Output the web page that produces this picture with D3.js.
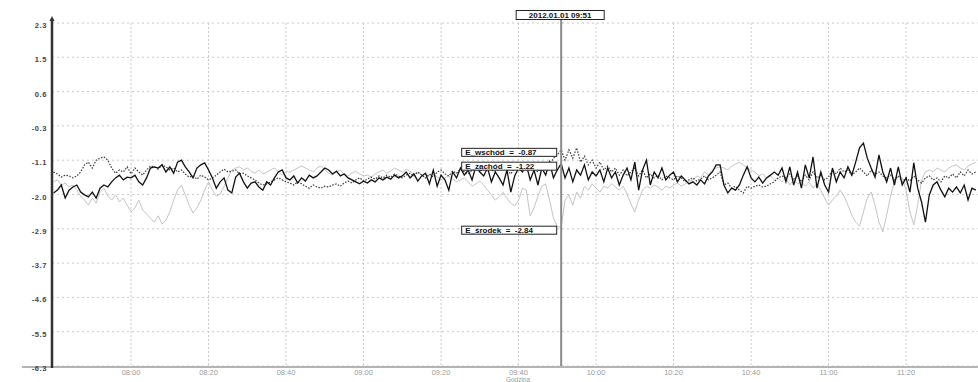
<!DOCTYPE html>
<html>
<head>
<meta charset="utf-8">
<script src="https://cdn.jsdelivr.net/npm/d3@7"></script>
<style>
  body { margin: 0; background: #fff; }
  svg { display: block; font-family: "Liberation Sans", Arial, sans-serif; }
</style>
</head>
<body>
<div id="chart"></div>
<script>
// one reading per minute from 07:40
let startTime = new Date(2012, 0, 1, 7, 40);
let cursorTime = new Date(2012, 0, 1, 9, 51);

let seriesNames = ["E_wschód", "E_zachód", "E_środek"];

let yTickValues = [2.34, 1.472, 0.604, -0.264, -1.132, -2.0, -2.868, -3.736, -4.604, -5.472, -6.34];
let yTickLabels = ["2.3", "1.5", "0.6", "-0.3", "-1.1", "-2.0", "-2.9", "-3.7", "-4.6", "-5.5", "-6.3"];

// E_zachód (solid black)
let zachod = [
  -1.96,-1.89,-1.76,-2.09,-1.89,-1.81,-1.76,-1.94,-2.01,-2.06,
  -1.94,-2.09,-1.84,-1.76,-1.81,-1.68,-1.58,-1.51,-1.63,-1.56,
  -1.58,-1.51,-1.68,-1.76,-1.58,-1.33,-1.30,-1.33,-1.25,-1.43,
  -1.30,-1.46,-1.18,-1.13,-1.30,-1.43,-1.58,-1.33,-1.25,-1.20,
  -1.38,-1.58,-1.84,-1.68,-1.58,-1.89,-1.96,-1.56,-1.46,-1.68,
  -1.84,-1.71,-1.68,-1.81,-1.89,-1.68,-1.76,-1.58,-1.43,-1.38,
  -1.58,
  -1.63,-1.53,-1.71,-1.58,-1.66,-1.51,-1.58,-1.53,-1.43,-1.33,
  -1.38,-1.48,-1.41,-1.53,-1.48,-1.58,-1.63,-1.68,-1.73,-1.66,
  -1.71,-1.63,-1.68,-1.58,-1.63,-1.56,-1.61,-1.51,-1.58,-1.53,
  -1.43,-1.58,-1.48,-1.66,-1.53,-1.46,-1.73,-1.38,-1.79,-1.51,
  -1.63,-1.89,-1.43,-1.58,-1.33,-1.51,-1.38,-1.63,-1.28,-1.43,
  -1.53,-1.33,-1.68,-1.43,-1.58,-1.76,-1.38,-1.94,-1.53,-1.33,
  -1.43,-1.25,-1.63,-1.38,-1.76,-1.33,-1.51,-1.18,-1.58,-1.38,
  -1.22,-1.58,-1.33,-1.68,-1.38,-1.51,-1.25,-1.63,-1.43,-1.53,
  -1.38,-1.68,-1.33,-1.58,-1.43,-1.76,-1.51,-1.33,-1.63,-1.18,
  -1.89,-1.38,-1.13,-1.76,-1.43,-1.58,-1.33,-1.63,-1.51,-1.43,
  -1.68,-1.53,-1.63,-1.73,-1.68,-1.76,-1.63,-1.73,-1.53,-1.43,
  -1.25,-1.25,
  -1.76,-1.96,-1.84,-1.89,-1.76,-1.51,-1.30,-1.58,-1.68,-1.56,
  -1.71,-1.58,-1.51,-1.43,-1.51,-1.33,-1.68,-1.30,-1.76,-1.43,
  -1.84,-1.25,-1.58,-1.05,-1.84,-1.43,-1.76,-1.94,-1.33,-1.68,
  -1.43,-1.58,-1.30,-1.51,-1.18,-0.82,-0.70,-1.08,-1.33,-1.56,
  -1.00,-1.43,-1.68,-1.33,-1.76,-1.30,-1.76,-1.58,-1.94,-1.20,
  -1.84,-2.19,-2.70,-2.01,-1.76,-1.68,-1.89,-2.06,-1.84,-1.94,
  -1.81,-1.96,-1.76,-2.14,-1.84,-1.89
];

// E_wschód (dotted)
let wschod = [
  -1.43,-1.48,-1.56,-1.51,-1.53,-1.58,-1.53,-1.43,-1.25,-1.18,
  -1.33,-1.13,-1.08,-1.05,-1.13,-1.33,-1.46,-1.38,-1.43,-1.30,
  -1.48,-1.33,-1.43,-1.51,-1.38,-1.28,-1.30,-1.36,-1.25,-1.30,
  -1.38,-1.33,-1.43,-1.38,-1.48,-1.56,-1.53,-1.61,-1.51,-1.56,
  -1.63,-1.58,-1.51,-1.43,-1.36,-1.43,-1.41,-1.38,-1.48,-1.46,
  -1.53,-1.58,-1.63,-1.71,-1.76,-1.73,-1.68,-1.63,-1.58,-1.63,
  -1.68,
  -1.71,-1.76,-1.68,-1.73,-1.79,-1.84,-1.76,-1.81,-1.84,-1.79,
  -1.81,-1.76,-1.73,-1.79,-1.71,-1.66,-1.71,-1.63,-1.58,-1.66,
  -1.61,-1.56,-1.61,-1.53,-1.58,-1.51,-1.56,-1.48,-1.53,-1.58,
  -1.51,-1.46,-1.53,-1.43,-1.51,-1.58,-1.48,-1.56,-1.43,-1.38,
  -1.48,-1.53,-1.41,-1.46,-1.36,-1.43,-1.48,-1.38,-1.33,-1.41,
  -1.36,-1.28,-1.38,-1.43,-1.33,-1.25,-1.38,-1.48,-1.33,-1.25,
  -1.33,-1.38,-1.25,-1.33,-1.43,-1.28,-1.18,-1.25,-1.08,-1.00,
  -0.87,-1.13,-0.87,-1.08,-0.82,-1.18,-1.03,-1.25,-1.13,-1.33,
  -1.18,-1.38,-1.28,-1.43,-1.33,-1.51,-1.38,-1.53,-1.43,-1.33,
  -1.53,-1.38,-1.58,-1.48,-1.58,-1.51,-1.63,-1.53,-1.58,-1.63,
  -1.53,-1.58,-1.68,-1.63,-1.58,-1.66,-1.61,-1.53,-1.63,-1.58,
  -1.51,-1.43,
  -1.76,-1.71,-1.84,-1.79,-1.89,-1.96,-1.79,-1.84,-1.79,-1.76,
  -1.81,-1.79,-1.73,-1.68,-1.58,-1.53,-1.58,-1.48,-1.63,-1.53,
  -1.68,-1.51,-1.63,-1.43,-1.58,-1.51,-1.63,-1.56,-1.38,-1.48,
  -1.33,-1.43,-1.38,-1.51,-1.43,-1.33,-1.43,-1.53,-1.38,-1.48,
  -1.43,-1.53,-1.58,-1.51,-1.63,-1.53,-1.68,-1.58,-1.66,-1.53,
  -1.63,-1.71,-1.58,-1.53,-1.63,-1.58,-1.68,-1.53,-1.58,-1.48,
  -1.58,-1.43,-1.53,-1.38,-1.48,-1.43
];

// E_środek (light grey)
let srodek = [
  -1.68,-1.63,-1.76,-1.71,-1.81,-1.76,-1.89,-2.04,-2.14,-2.27,
  -2.09,-2.22,-1.94,-1.84,-2.04,-2.14,-2.01,-2.19,-2.09,-2.27,
  -2.44,-2.34,-2.14,-2.39,-2.49,-2.60,-2.70,-2.54,-2.75,-2.65,
  -2.44,-2.14,-1.89,-1.76,-2.01,-2.27,-2.47,-2.34,-2.14,-1.89,
  -1.68,-1.89,-2.04,-1.99,-1.79,-1.58,-1.38,-1.33,-1.30,-1.38,
  -1.33,-1.41,-1.46,-1.38,-1.48,-1.43,-1.38,-1.33,-1.43,-1.51,
  -1.43,
  -1.43,-1.38,-1.33,-1.28,-1.33,-1.38,-1.43,-1.33,-1.28,-1.38,
  -1.46,-1.51,-1.43,-1.38,-1.48,-1.53,-1.46,-1.41,-1.48,-1.53,
  -1.51,-1.56,-1.48,-1.43,-1.38,-1.46,-1.41,-1.33,-1.38,-1.43,
  -1.36,-1.41,-1.48,-1.43,-1.51,-1.58,-1.53,-1.48,-1.56,-1.63,
  -1.58,-1.53,-1.61,-1.68,-1.63,-1.58,-1.68,-1.79,-1.73,-1.66,
  -1.76,-1.89,-2.01,-2.14,-2.06,-1.94,-2.09,-2.22,-2.29,-2.14,
  -1.84,-1.89,-2.54,-2.34,-2.04,-1.79,-1.73,-2.14,-2.60,-2.80,
  -2.84,-2.14,-2.01,-2.27,-1.94,-2.09,-1.79,-1.89,-1.73,-1.84,
  -1.94,-1.79,-1.84,-1.73,-1.81,-1.89,-1.79,-1.99,-2.24,-2.44,
  -2.14,-1.89,-1.79,-1.84,-1.76,-1.81,-1.89,-1.79,-1.84,-1.76,
  -1.71,-1.79,-1.73,-1.68,-1.63,-1.53,-1.58,-1.43,-1.51,-1.38,
  -1.33,-1.30,
  -1.33,-1.38,-1.28,-1.23,-1.18,-1.25,-1.33,-1.38,-1.43,-1.53,
  -1.48,-1.58,-1.53,-1.63,-1.58,-1.68,-1.58,-1.76,-1.63,-1.73,
  -1.68,-1.79,-1.68,-1.84,-1.73,-1.89,-2.09,-2.27,-2.14,-2.04,
  -1.89,-2.04,-2.27,-2.52,-2.70,-2.80,-2.44,-2.09,-1.94,-2.27,
  -2.70,-2.95,-2.52,-2.04,-1.68,-1.53,-1.58,-1.89,-2.44,-2.77,
  -2.27,-1.63,-1.43,-1.38,-1.43,-1.33,-1.38,-1.43,-1.33,-1.28,
  -1.25,-1.33,-1.38,-1.28,-1.23,-1.18
];

let width = 978, height = 382;
let plotLeft = 52, plotRight = 978, plotTop = 23, plotBottom = 366;

let svg = d3.select("#chart").append("svg")
    .attr("width", width)
    .attr("height", height);

let xScale = d3.scaleTime()
  .domain([new Date(2012, 0, 1, 7, 39, 36), new Date(2012, 0, 1, 11, 38, 34)])
  .range([plotLeft, plotRight]);

let yScale = d3.scaleLinear()
  .domain([-6.34, 2.34])
  .range([plotBottom, plotTop]);

let xTickValues = d3.timeMinute.every(20).range(new Date(2012, 0, 1, 8, 0), new Date(2012, 0, 1, 11, 21));
let timeFmt = d3.timeFormat("%H:%M");

let timeAt = (i) => d3.timeMinute.offset(startTime, i);

// grid
svg.append("g")
    .selectAll("line")
    .data(yTickValues)
  .enter().append("line")
    .attr("x1", plotLeft).attr("x2", plotRight)
    .attr("y1", d => yScale(d)).attr("y2", d => yScale(d))
    .attr("stroke", "#c8c8c8")
    .attr("stroke-dasharray", "2,3");

svg.append("g")
    .selectAll("line")
    .data(xTickValues)
  .enter().append("line")
    .attr("x1", d => xScale(d)).attr("x2", d => xScale(d))
    .attr("y1", plotTop).attr("y2", plotBottom)
    .attr("stroke", "#c8c8c8")
    .attr("stroke-dasharray", "2,2");

// series
let line = d3.line()
  .x((d, i) => xScale(timeAt(i)))
  .y(d => yScale(d));

svg.append("path")
    .datum(srodek)
    .attr("fill", "none")
    .attr("stroke", "#c4c4c4")
    .attr("stroke-width", 1)
    .attr("d", line);

svg.append("path")
    .datum(wschod)
    .attr("fill", "none")
    .attr("stroke", "#3a3a3a")
    .attr("stroke-width", 1.2)
    .attr("stroke-dasharray", "1.5,1.5")
    .attr("d", line);

svg.append("path")
    .datum(zachod)
    .attr("fill", "none")
    .attr("stroke", "#111")
    .attr("stroke-width", 1.3)
    .attr("d", line);

// x axis
svg.append("line")
    .attr("x1", 22).attr("x2", plotRight)
    .attr("y1", plotBottom + 1).attr("y2", plotBottom + 1)
    .attr("stroke", "#b4b4b4")
    .attr("stroke-width", 2);

svg.append("g")
    .selectAll("text")
    .data(xTickValues)
  .enter().append("text")
    .attr("x", d => xScale(d))
    .attr("y", 374.5)
    .attr("text-anchor", "middle")
    .attr("font-size", "7.5px")
    .attr("fill", "#9a9a9a")
    .text(d => timeFmt(d));

svg.append("text")
    .attr("x", (plotLeft + plotRight) / 2 + 3)
    .attr("y", 381.5)
    .attr("text-anchor", "middle")
    .attr("font-size", "6.5px")
    .attr("fill", "#9a9a9a")
    .text("Godzina");

// y axis
svg.append("line")
    .attr("x1", plotLeft).attr("x2", plotLeft)
    .attr("y1", 19).attr("y2", plotBottom + 2)
    .attr("stroke", "#333")
    .attr("stroke-width", 2.5);

svg.append("path")
    .attr("d", `M${plotLeft - 2.5},21 L${plotLeft},16 L${plotLeft + 2.5},21 Z`)
    .attr("fill", "#333");

svg.append("g")
    .selectAll("text")
    .data(yTickValues)
  .enter().append("text")
    .attr("x", 47)
    .attr("y", d => yScale(d) + 5)
    .attr("text-anchor", "end")
    .attr("font-size", "7.5px")
    .attr("font-weight", "bold")
    .attr("letter-spacing", "0.6px")
    .attr("fill", "#444")
    .text((d, i) => yTickLabels[i]);

// cursor
let cx = xScale(cursorTime);
let cursorIndex = d3.timeMinute.count(startTime, cursorTime);

svg.append("line")
    .attr("x1", cx).attr("x2", cx)
    .attr("y1", 19).attr("y2", plotBottom)
    .attr("stroke", "#8a8a8a")
    .attr("stroke-width", 2);

let dateLabel = svg.append("g");
dateLabel.append("rect")
    .attr("x", cx - 45).attr("y", 10.5)
    .attr("width", 88).attr("height", 9)
    .attr("fill", "#fff")
    .attr("stroke", "#222");
dateLabel.append("text")
    .attr("x", cx - 1).attr("y", 18)
    .attr("text-anchor", "middle")
    .attr("font-size", "8px")
    .attr("font-weight", "bold")
    .attr("fill", "#111")
    .text("2012.01.01 09:51");

let readouts = [wschod, zachod, srodek].map((s, i) => ({ name: seriesNames[i], value: s[cursorIndex] }));

let boxes = svg.append("g")
    .selectAll("g")
    .data(readouts)
  .enter().append("g")
    .attr("transform", d => `translate(${cx - 100}, ${yScale(d.value) - 2})`);

boxes.append("rect")
    .attr("x", 0.5).attr("y", 0.5)
    .attr("width", 95).attr("height", 8)
    .attr("fill", "#fff")
    .attr("stroke", "#222");

boxes.append("text")
    .attr("x", 4).attr("y", 7.5)
    .attr("font-size", "8px")
    .attr("font-weight", "bold")
    .attr("fill", "#111")
    .style("white-space", "pre")
    .text(d => `${d.name}  =  ${d.value.toFixed(2)}`);
</script>
</body>
</html>
